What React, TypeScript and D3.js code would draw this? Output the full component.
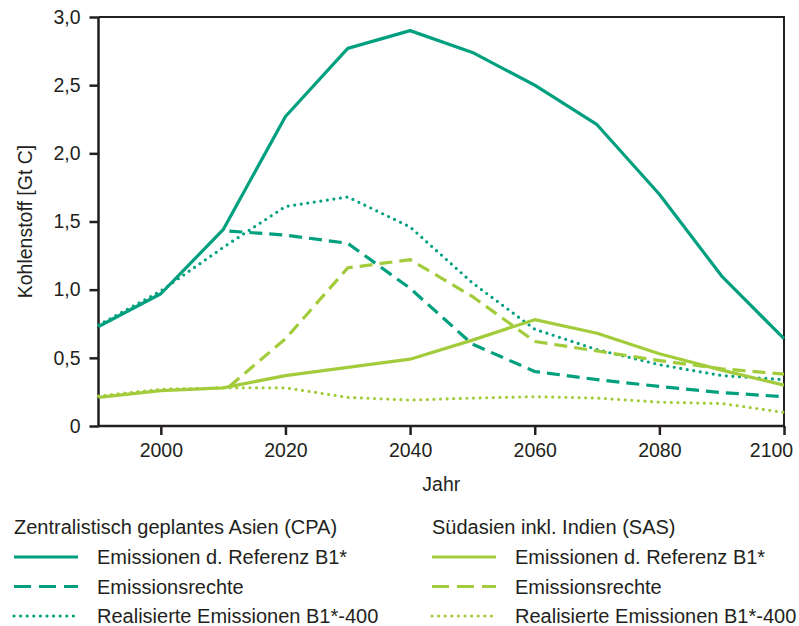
import * as d3 from 'd3'
import * as React from 'react'

//------------------------------data------------------------------
const years = [1990, 2000, 2010, 2020, 2030, 2040, 2050, 2060, 2070, 2080, 2090, 2100]
const rightsYears = [2011, 2020, 2030, 2040, 2050, 2060, 2070, 2080, 2090, 2100]

const cpaReference = [0.73, 0.97, 1.44, 2.27, 2.77, 2.9, 2.74, 2.5, 2.21, 1.7, 1.1, 0.64]
const cpaRights = [1.43, 1.4, 1.34, 1.01, 0.6, 0.4, 0.34, 0.29, 0.245, 0.215]
const cpaRealised = [0.74, 0.99, 1.31, 1.61, 1.68, 1.46, 1.05, 0.71, 0.56, 0.45, 0.37, 0.34]

const sasReference = [0.21, 0.26, 0.28, 0.37, 0.43, 0.49, 0.63, 0.78, 0.68, 0.53, 0.41, 0.3]
const sasRights = [0.29, 0.64, 1.16, 1.22, 0.95, 0.62, 0.55, 0.48, 0.42, 0.38]
const sasRealised = [0.22, 0.27, 0.28, 0.28, 0.21, 0.19, 0.205, 0.215, 0.205, 0.175, 0.165, 0.1]

const xTicks = [2000, 2020, 2040, 2060, 2080, 2100]
const yTicks = [0, 0.5, 1, 1.5, 2, 2.5, 3]

const groupTitles = ['Zentralistisch geplantes Asien (CPA)', 'Südasien inkl. Indien (SAS)']
const seriesLabels = ['Emissionen d. Referenz B1*', 'Emissionsrechte', 'Realisierte Emissionen B1*-400']

//------------------------------layout------------------------------
const WIDTH = 799
const HEIGHT = 626
const M = { left: 98.5, right: 784, top: 17, bottom: 426 }
const TEAL = '#00a07f'
const LIME = '#a3cc3c'
const INK = '#231f20'
const FONT = '"Liberation Sans", Arial, Helvetica, sans-serif'

const STYLES = [
  { dash: 'none', cap: 'butt' as const },
  { dash: '13,7', cap: 'butt' as const },
  { dash: '0,6.6', cap: 'round' as const }
]

const de = d3.formatLocale({ decimal: ',', thousands: '.', grouping: [3], currency: ['', ' €'] })
const fmtY = (d: number) => (d === 0 ? '0' : de.format('.1f')(d))

export default function App() {
  const xAxisRef = React.useRef<SVGGElement>(null)
  const yAxisRef = React.useRef<SVGGElement>(null)

  const x = d3.scaleLinear().domain([1990, 2100]).range([M.left, M.right])
  const y = d3.scaleLinear().domain([0, 3]).range([M.bottom, M.top])

  const line = d3
    .line<[number, number]>()
    .x(d => x(d[0]))
    .y(d => y(d[1]))

  const series = [
    { color: TEAL, style: 0, xs: years, ys: cpaReference },
    { color: TEAL, style: 1, xs: rightsYears, ys: cpaRights },
    { color: TEAL, style: 2, xs: years, ys: cpaRealised },
    { color: LIME, style: 0, xs: years, ys: sasReference },
    { color: LIME, style: 1, xs: rightsYears, ys: sasRights },
    { color: LIME, style: 2, xs: years, ys: sasRealised }
  ]

  React.useEffect(() => {
    const gx = d3.select(xAxisRef.current!)
    gx.call(d3.axisBottom(x).tickValues(xTicks).tickFormat(d => String(d)).tickSize(9).tickPadding(8))
    // last label sits a bit left of the frame edge, as in the source
    gx.selectAll<SVGTextElement, number>('text').attr('dx', d => (d === 2100 ? -13 : 0))
    const gy = d3.select(yAxisRef.current!)
    gy.call(d3.axisLeft(y).tickValues(yTicks).tickFormat(d => fmtY(+d)).tickSize(9).tickPadding(9))
    for (const g of [gx, gy]) {
      g.select('.domain').remove()
      g.selectAll('line').attr('stroke', INK).attr('stroke-width', 2.5)
      g.selectAll('text')
        .attr('fill', INK)
        .style('font-family', FONT)
        .style('font-size', '19.5px')
    }
  }, [])

  return (
    <svg
      width={WIDTH}
      height={HEIGHT}
      style={{ position: 'absolute', left: 0, top: 0, background: '#fff' }}
    >
      {/* frame */}
      <path
        d={`M${M.left},${M.top}H${M.right}V${M.bottom}`}
        fill="none"
        stroke={INK}
        strokeWidth={2}
      />
      <path
        d={`M${M.left},${M.top}V${M.bottom}H${M.right}`}
        fill="none"
        stroke={INK}
        strokeWidth={2.5}
      />
      <g ref={xAxisRef} transform={`translate(0,${M.bottom})`} />
      <g ref={yAxisRef} transform={`translate(${M.left},0)`} />

      {series.map((s, i) => (
        <path
          key={i}
          d={line(s.xs.map((yr, j) => [yr, s.ys[j]] as [number, number])) || ''}
          fill="none"
          stroke={s.color}
          strokeWidth={3.2}
          strokeDasharray={STYLES[s.style].dash}
          strokeLinecap={STYLES[s.style].cap}
          strokeLinejoin="round"
        />
      ))}

      <text
        x={(M.left + M.right) / 2}
        y={491}
        textAnchor="middle"
        fontFamily={FONT}
        fontSize={19.5}
        fill={INK}
      >
        Jahr
      </text>
      <text
        transform={`translate(32,${(M.top + M.bottom) / 2}) rotate(-90)`}
        textAnchor="middle"
        fontFamily={FONT}
        fontSize={19.5}
        fill={INK}
      >
        Kohlenstoff [Gt C]
      </text>

      {/* legend */}
      {groupTitles.map((title, gi) => {
        const lx = gi === 0 ? 14 : 432
        const color = gi === 0 ? TEAL : LIME
        return (
          <g key={gi} fontFamily={FONT} fontSize={20} fill={INK}>
            <text x={lx} y={534}>
              {title}
            </text>
            {seriesLabels.map((lab, li) => {
              const ly = 557 + li * 29.5
              return (
                <g key={li}>
                  <line
                    x1={lx}
                    x2={lx + 64}
                    y1={ly}
                    y2={ly}
                    stroke={color}
                    strokeWidth={3.2}
                    strokeDasharray={li === 1 ? '17,8' : STYLES[li].dash}
                    strokeLinecap={STYLES[li].cap}
                  />
                  <text x={lx + 83} y={ly + 7}>
                    {lab}
                  </text>
                </g>
              )
            })}
          </g>
        )
      })}
    </svg>
  )
}
